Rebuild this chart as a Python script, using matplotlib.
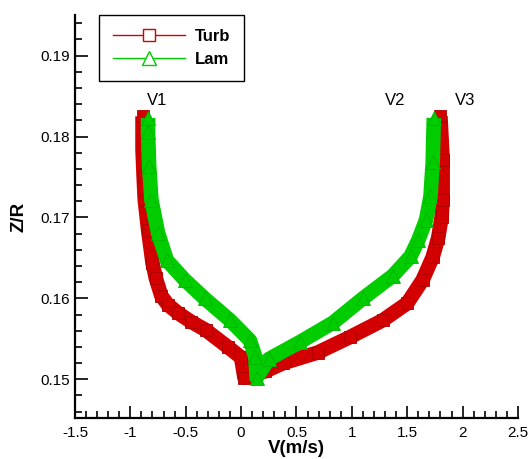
import matplotlib
matplotlib.use('Agg')
import matplotlib.pyplot as plt
from matplotlib.lines import Line2D
import numpy as np

plt.rcParams['font.family'] = ['Liberation Sans', 'DejaVu Sans']

# ---------------- datos ----------------
# Turb (rojo, cuadrados): rama izquierda arriba->abajo, luego rama derecha abajo->arriba
turb_v = [-0.89, -0.89, -0.88, -0.87, -0.84, -0.80, -0.77, -0.72, -0.66, -0.57, -0.45, -0.32,
          -0.12, 0.00, 0.03, 0.22, 0.38, 0.69, 0.98, 1.28, 1.50, 1.64, 1.73, 1.78,
          1.81, 1.82, 1.82, 1.80]
turb_z = [0.1825, 0.1784, 0.1750, 0.1722, 0.1685, 0.1644, 0.1625, 0.1603, 0.1592, 0.1582, 0.1571, 0.1561,
          0.1540, 0.1527, 0.1502, 0.1510, 0.1520, 0.1533, 0.1552, 0.1573, 0.1594, 0.1623, 0.1651, 0.1675,
          0.1700, 0.1722, 0.1771, 0.1825]

# Lam (verde, triangulos)
lam_v = [-0.84, -0.84, -0.83, -0.81, -0.75, -0.67, -0.51, -0.33, -0.10, 0.08, 0.13, 0.14,
         0.25, 0.53, 0.83, 1.10, 1.37, 1.53, 1.60, 1.67, 1.71, 1.73, 1.74]
lam_z = [0.1823, 0.1805, 0.1763, 0.1722, 0.1681, 0.1647, 0.1623, 0.1600, 0.1573, 0.1548, 0.1527, 0.1502,
         0.1525, 0.1546, 0.1570, 0.1600, 0.1628, 0.1652, 0.1672, 0.1697, 0.1726, 0.1768, 0.1823]

etiquetas = ['V1', 'V2', 'V3']
etiq_v = [-0.76, 1.39, 2.02]
etiq_z = [0.1844, 0.1844, 0.1844]

xticks = [-1.5, -1, -0.5, 0, 0.5, 1, 1.5, 2, 2.5]
xtick_labels = ['-1.5', '-1', '-0.5', '0', '0.5', '1', '1.5', '2', '2.5']
yticks = [0.15, 0.16, 0.17, 0.18, 0.19]
ytick_labels = ['0.15', '0.16', '0.17', '0.18', '0.19']

ROJO = '#d20000'
VERDE = '#00cc00'

fig = plt.figure(figsize=(5.28, 4.59), dpi=100)
ax = fig.add_axes([0.142, 0.089, 0.839, 0.878])

# ---------------- curvas ----------------
ax.plot(turb_v, turb_z, color=ROJO, lw=10.5, solid_joinstyle='round', solid_capstyle='butt')
ax.plot(turb_v, turb_z, ls='none', marker='s', ms=9, mfc=ROJO, mec='#b00000', mew=0.6)
ax.plot(lam_v, lam_z, color=VERDE, lw=10.5, solid_joinstyle='round', solid_capstyle='butt')
ax.plot(lam_v, lam_z, ls='none', marker='^', ms=10, mfc=VERDE, mec='#00b400', mew=0.6)

for t, v, z in zip(etiquetas, etiq_v, etiq_z):
    ax.text(v, z, t, fontsize=12, ha='center', va='center')

# ---------------- ejes ----------------
ax.set_xlim(-1.5, 2.5)
ax.set_ylim(0.1452, 0.195)
ax.set_xticks(xticks)
ax.set_xticklabels(xtick_labels)
ax.set_yticks(yticks)
ax.set_yticklabels(ytick_labels)
ax.set_xticks(np.arange(-1.5, 2.51, 0.1), minor=True)
ax.set_yticks(np.arange(0.146, 0.1945, 0.002), minor=True)
ax.tick_params(which='both', direction='in', width=1.2, labelsize=11)
ax.tick_params(which='major', length=9)
ax.tick_params(which='minor', length=5)
ax.tick_params(axis='x', pad=6)
ax.spines['top'].set_visible(False)
ax.spines['right'].set_visible(False)
ax.spines['left'].set_linewidth(1.6)
ax.spines['bottom'].set_linewidth(1.6)

ax.set_xlabel('V(m/s)', fontsize=13.5, fontweight='bold', labelpad=0)
ax.set_ylabel('Z/R', fontsize=13.5, fontweight='bold', labelpad=9)

handles = [Line2D([], [], color=ROJO, lw=1, marker='s', ms=9, mfc='white', mec=ROJO),
           Line2D([], [], color=VERDE, lw=1, marker='^', ms=10, mfc='white', mec=VERDE)]
leg = ax.legend(handles, ['Turb', 'Lam'], loc='upper left', bbox_to_anchor=(0.054, 1.0),
                borderaxespad=0, fancybox=False, edgecolor='black', framealpha=1,
                handlelength=4.3, handletextpad=0.6,
                prop={'weight': 'bold', 'size': 12}, borderpad=0.85, labelspacing=0.45)
leg.get_frame().set_linewidth(1.0)

fig.savefig('out.png', dpi=100)
